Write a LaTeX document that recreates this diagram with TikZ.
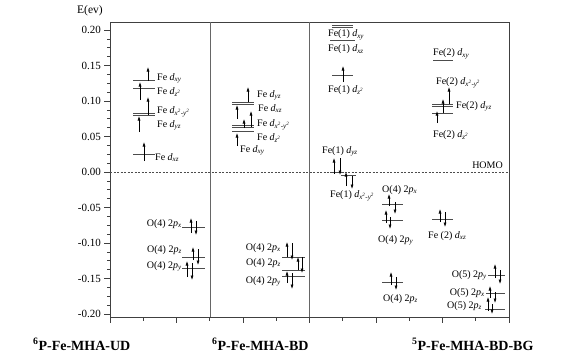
\documentclass[tikz,border=0pt]{standalone}
\usepackage{fontspec}
\setmainfont{Liberation Serif}
\usetikzlibrary{arrows.meta}
\newcommand\orb[2]{\textit{#1}\textsubscript{\textit{#2}}}
\newcommand\sq[1]{#1\textsuperscript{2}}
\newcommand\upe[3]{\draw[elec] (#1,#2) -- (#1,#3);}
\begin{document}
\begin{tikzpicture}[x=1pt,y=-1pt,
  lvl/.style={draw=black!70, line width=0.6pt},
  elec/.style={draw=black, line width=0.6pt, -{Latex[length=4.5pt,width=3pt]}},
  frame/.style={draw=black!75, line width=0.8pt},
  lab/.style={font=\fontsize{10}{12}\selectfont, inner sep=0pt, text=black},
  tlab/.style={font=\fontsize{11}{13}\selectfont, inner sep=0pt, anchor=east},
  blab/.style={font=\fontsize{14}{16}\selectfont\bfseries, inner sep=0pt, anchor=base west}]
\useasboundingbox (0,0) rectangle (577,361);
% frame and axes
\draw[frame] (110,22) rectangle (509,317);
\draw[black!60, line width=0.6pt] (210,22) -- (210,317) (309,22) -- (309,317);
\draw[black!70, dashed, line width=0.5pt, dash pattern=on 2pt off 1.5pt] (110,172) -- (509,172);
% y ticks
\foreach \k/\t in {4/0.20,3/0.15,2/0.10,1/0.05,0/0.00,-1/-0.05,-2/-0.10,-3/-0.15,-4/-0.20}{
  \draw[frame] (104,{172-35.5*\k}) -- (110,{172-35.5*\k});
  \node[tlab] (yt\k) at (101,{172-35.5*\k}) {\t};
}
\foreach \m in {-15,...,16}{
  \draw[black!75, line width=0.6pt] (107,{172-8.875*\m}) -- (110,{172-8.875*\m});
}
% x ticks
\foreach \i in {0,...,12}{
  \pgfmathsetmacro\xx{110+33.25*\i}
  \pgfmathsetmacro\len{mod(\i,2)==0 ? 6 : 4}
  \draw[frame] (\xx,317) -- (\xx,317+\len);
}
\node[font=\fontsize{11.5}{13}\selectfont, anchor=west, inner sep=0pt] (ylab) at (77,11) {E(ev)};
\node[lab, anchor=base east] (homo) at (503,168) {HOMO};
% bottom labels
\node[blab] (b1) at (33,350) {\textsuperscript{6}P-Fe-MHA-UD};
\node[blab] (b2) at (212,350) {\textsuperscript{6}P-Fe-MHA-BD};
\node[blab] (b3) at (412,350) {\textsuperscript{5}P-Fe-MHA-BD-BG};

% ===== Section 1 =====
\draw[lvl] (133,80.5) -- (155,80.5);
\draw[lvl] (133,88) -- (155,88);
\draw[lvl] (133,113.5) -- (155,113.5);
\draw[lvl] (133,115) -- (155,115);
\draw[lvl] (133,154) -- (155,154);
\upe{148}{81}{67}
\upe{140}{100}{82}
\upe{148}{115}{97}
\upe{139}{132}{116}
\upe{144}{161}{142}
\node[lab, anchor=base west] (a1) at (157,80) {Fe \orb{d}{xy}};
\node[lab, anchor=base west] (a2) at (157,94) {Fe \orb{d}{\sq{z}}};
\node[lab, anchor=base west] (a3) at (157,113) {Fe \orb{d}{\sq{x}-\sq{y}}};
\node[lab, anchor=base west] (a4) at (157,127) {Fe \orb{d}{yz}};
\node[lab, anchor=base west] (a5) at (155,160) {Fe \orb{d}{xz}};
\draw[lvl] (182,227) -- (205,227);
\draw[lvl] (182,257) -- (205,257);
\draw[lvl] (182,268) -- (205,268);
\upe{191}{233}{218} \upe{196}{221}{235}
\upe{193}{260}{247} \upe{198}{249}{265}
\upe{187}{277}{261} \upe{192}{263}{280}
\node[lab, anchor=base east] (a6) at (182,226) {O(4) 2\orb{p}{x}};
\node[lab, anchor=base east] (a7) at (182,252) {O(4) 2\orb{p}{z}};
\node[lab, anchor=base east] (a8) at (182,268) {O(4) 2\orb{p}{y}};

% ===== Section 2 =====
\draw[lvl] (232,102) -- (254,102);
\draw[lvl] (232,104) -- (254,104);
\draw[lvl] (232,125) -- (254,125);
\draw[lvl] (232,127.5) -- (254,127.5);
\draw[lvl] (232,131) -- (254,131);
\upe{248}{102}{87}
\upe{237}{119}{105}
\upe{251}{127}{111}
\upe{244}{128}{119}
\upe{237}{146}{133}
\node[lab, anchor=base west] (c1) at (257,97) {Fe \orb{d}{yz}};
\node[lab, anchor=base west] (c2) at (258,111) {Fe \orb{d}{xz}};
\node[lab, anchor=base west] (c3) at (257,126) {Fe \orb{d}{\sq{x}-\sq{y}}};
\node[lab, anchor=base west] (c4) at (257,140) {Fe \orb{d}{\sq{z}}};
\node[lab, anchor=base west] (c5) at (240,152) {Fe \orb{d}{xy}};
\draw[lvl] (282,257) -- (305,257);
\draw[lvl] (282,270) -- (305,270);
\draw[lvl] (282,276) -- (305,276);
\upe{287}{257}{242} \upe{292}{243}{260}
\upe{298}{270}{257} \upe{302}{257}{273}
\upe{287}{283}{271} \upe{292}{273}{289}
\node[lab, anchor=base east] (c6) at (281,250) {O(4) 2\orb{p}{x}};
\node[lab, anchor=base east] (c7) at (281,265) {O(4) 2\orb{p}{z}};
\node[lab, anchor=base east] (c8) at (281,283) {O(4) 2\orb{p}{y}};

% ===== Section 3 =====
\draw[lvl] (332,25) -- (353,25);
\draw[lvl] (332,27) -- (353,27);
\draw[lvl] (330,40) -- (355,40);
\draw[lvl] (332,75.5) -- (353,75.5);
\upe{343}{82}{66}
\node[lab, anchor=base west] (e1) at (328,37) {Fe(1) \orb{d}{xy}};
\node[lab, anchor=base west] (e2) at (328,52) {Fe(1) \orb{d}{xz}};
\node[lab, anchor=base west] (e3) at (328,92) {Fe(1) \orb{d}{\sq{z}}};
\draw[lvl] (330,172) -- (344,172);
\draw[lvl] (341,175) -- (356,175);
\upe{334}{174}{158} \upe{340}{158}{175}
\upe{346}{186}{172} \upe{352}{176}{189}
\node[lab, anchor=base west] (e4) at (322,153) {Fe(1) \orb{d}{yz}};
\node[lab, anchor=base west] (e5) at (330,197) {Fe(1) \orb{d}{\sq{x}-\sq{y}}};
\draw[lvl] (382,204) -- (403,204);
\draw[lvl] (382,220) -- (403,220);
\draw[lvl] (382,282) -- (403,282);
\upe{389}{206}{194} \upe{395}{202}{214}
\upe{386}{223}{210} \upe{390}{217}{229}
\upe{391}{285}{272} \upe{396}{277}{290}
\node[lab, anchor=base west] (e6) at (382,192) {O(4) 2\orb{p}{x}};
\node[lab, anchor=base west] (e7) at (378,242) {O(4) 2\orb{p}{y}};
\node[lab, anchor=base west] (e8) at (383,301) {O(4) 2\orb{p}{z}};
\draw[lvl] (433,60) -- (453,60);
\draw[lvl] (432,104) -- (453,104);
\draw[lvl] (432,106) -- (453,106);
\draw[lvl] (432,113) -- (453,113);
\upe{449}{104}{87}
\upe{443}{113}{99}
\upe{437}{123}{111}
\node[lab, anchor=base west] (f1) at (433,56) {Fe(2) \orb{d}{xy}};
\node[lab, anchor=base west] (f2) at (436,84) {Fe(2) \orb{d}{\sq{x}-\sq{y}}};
\node[lab, anchor=base west] (f3) at (456,108) {Fe(2) \orb{d}{yz}};
\node[lab, anchor=base west] (f4) at (433,137) {Fe(2) \orb{d}{\sq{z}}};
\draw[lvl] (432,219) -- (453,219);
\upe{440}{222}{209} \upe{445}{212}{227}
\node[lab, anchor=base west] (f5) at (428,238) {Fe (2) \orb{d}{xz}};
\draw[lvl] (488,275) -- (505,275);
\draw[lvl] (486,293) -- (505,293);
\draw[lvl] (485,309) -- (505,309);
\upe{495}{278}{264} \upe{500}{270}{284}
\upe{490}{298}{286} \upe{495}{292}{303}
\upe{488}{311}{297} \upe{492}{304}{314}
\node[lab, anchor=base east] (g1) at (487,277) {O(5) 2\orb{p}{y}};
\node[lab, anchor=base east] (g2) at (485,295) {O(5) 2\orb{p}{x}};
\node[lab, anchor=base east] (g3) at (482,308) {O(5) 2\orb{p}{z}};
\end{tikzpicture}
\end{document}
